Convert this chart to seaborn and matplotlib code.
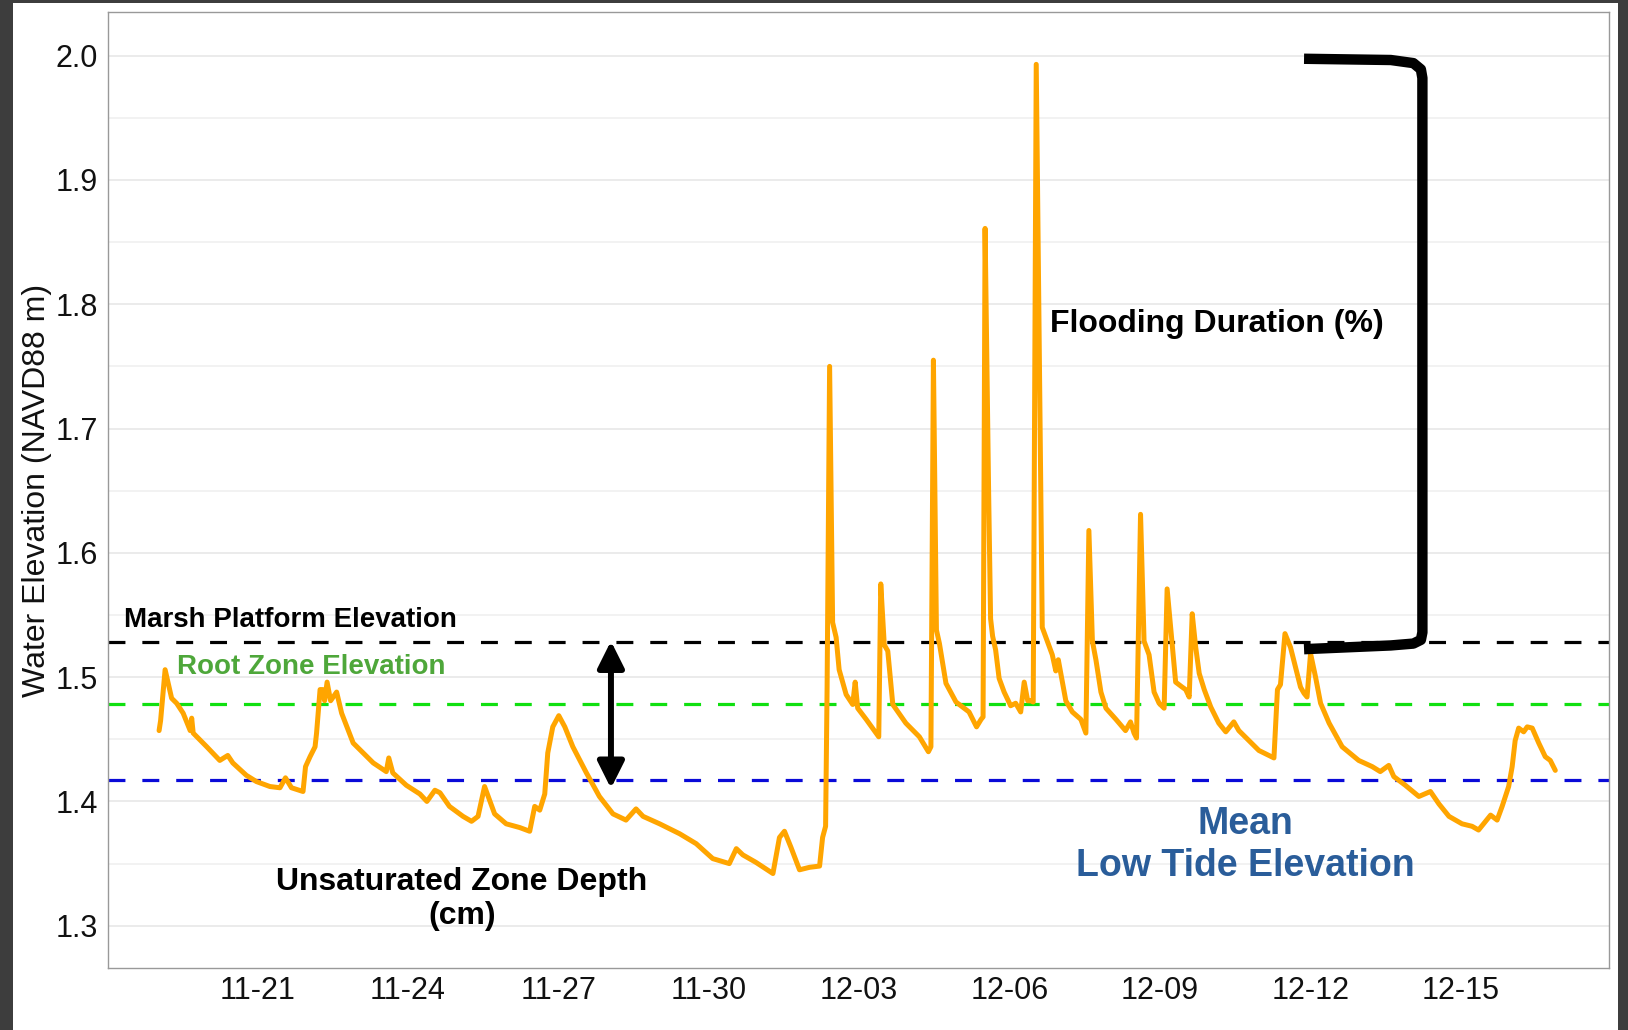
import numpy as np
import pandas as pd
import matplotlib.pyplot as plt
import matplotlib.dates as mdates
from matplotlib.patches import Rectangle
import seaborn as sns

sns.set_style('white')
plt.rcParams['font.family'] = ['Liberation Sans', 'DejaVu Sans']

# 수위 시계열 (11-19 00:00 기준 경과 일수, NAVD88 m)
day_offset = [0.04, 0.07, 0.16, 0.29, 0.39, 0.52, 0.66, 0.69, 0.72, 0.99,
              1.25, 1.41, 1.51, 1.78, 1.98, 2.25, 2.45, 2.56, 2.68, 2.91,
              2.96, 3.05, 3.15, 3.18, 3.25, 3.30, 3.34, 3.39, 3.46, 3.58,
              3.68, 3.91, 4.31, 4.57, 4.62, 4.70, 4.97, 5.24, 5.38, 5.54,
              5.64, 5.83, 6.10, 6.27, 6.40, 6.53, 6.63, 6.73, 6.96, 7.23,
              7.43, 7.53, 7.63, 7.73, 7.79, 7.89, 8.01, 8.13, 8.29, 8.56,
              8.82, 9.09, 9.35, 9.55, 9.69, 10.02, 10.42, 10.75, 11.08, 11.41,
              11.55, 11.68, 11.94, 12.28, 12.41, 12.51, 12.64, 12.81, 13.01, 13.21,
              13.27, 13.33, 13.36, 13.41, 13.47, 13.54, 13.60, 13.74, 13.87, 13.92,
              13.97, 14.14, 14.39, 14.43, 14.50, 14.57, 14.67, 14.93, 15.20, 15.38,
              15.43, 15.48, 15.54, 15.60, 15.73, 15.93, 16.19, 16.34, 16.43, 16.47,
              16.51, 16.58, 16.62, 16.66, 16.72, 16.79, 16.89, 17.02, 17.12, 17.22,
              17.29, 17.36, 17.42, 17.47, 17.53, 17.62, 17.65, 17.75, 17.85, 17.92,
              17.97, 18.02, 18.12, 18.25, 18.42, 18.52, 18.58, 18.65, 18.72, 18.82,
              18.92, 19.12, 19.31, 19.41, 19.48, 19.53, 19.61, 19.68, 19.78, 19.88,
              19.98, 20.08, 20.14, 20.21, 20.31, 20.44, 20.51, 20.58, 20.64, 20.71,
              20.78, 20.88, 21.01, 21.17, 21.31, 21.47, 21.57, 21.77, 21.97, 22.17,
              22.27, 22.34, 22.40, 22.49, 22.60, 22.70, 22.80, 22.87, 22.93, 23.00,
              23.10, 23.20, 23.37, 23.63, 23.96, 24.23, 24.39, 24.56, 24.66, 24.89,
              25.16, 25.39, 25.56, 25.76, 26.02, 26.22, 26.35, 26.49, 26.59, 26.72,
              26.82, 26.95, 27.02, 27.08, 27.15, 27.25, 27.32, 27.42, 27.55, 27.68,
              27.78, 27.88]
water_elev = [1.457, 1.465, 1.506, 1.483, 1.479, 1.471, 1.457, 1.467, 1.455, 1.444,
              1.433, 1.437, 1.431, 1.421, 1.416, 1.412, 1.411, 1.419, 1.411, 1.408,
              1.428, 1.436, 1.444, 1.455, 1.490, 1.490, 1.481, 1.496, 1.481, 1.488,
              1.471, 1.447, 1.431, 1.424, 1.435, 1.423, 1.413, 1.406, 1.400, 1.409,
              1.407, 1.396, 1.388, 1.384, 1.388, 1.412, 1.401, 1.390, 1.382, 1.379,
              1.376, 1.396, 1.393, 1.406, 1.439, 1.460, 1.469, 1.460, 1.444, 1.423,
              1.404, 1.390, 1.385, 1.394, 1.388, 1.382, 1.374, 1.366, 1.354, 1.350,
              1.362, 1.357, 1.351, 1.342, 1.371, 1.376, 1.363, 1.345, 1.347, 1.348,
              1.371, 1.380, 1.492, 1.750, 1.544, 1.532, 1.506, 1.486, 1.478, 1.496,
              1.475, 1.466, 1.452, 1.575, 1.526, 1.521, 1.478, 1.463, 1.452, 1.440,
              1.444, 1.755, 1.538, 1.527, 1.495, 1.480, 1.472, 1.460, 1.466, 1.468,
              1.861, 1.651, 1.547, 1.533, 1.522, 1.499, 1.488, 1.477, 1.479, 1.472,
              1.496, 1.481, 1.481, 1.480, 1.993, 1.651, 1.540, 1.529, 1.518, 1.505,
              1.514, 1.503, 1.481, 1.472, 1.466, 1.455, 1.618, 1.529, 1.514, 1.488,
              1.475, 1.466, 1.457, 1.464, 1.455, 1.451, 1.631, 1.529, 1.518, 1.488,
              1.479, 1.475, 1.571, 1.540, 1.496, 1.492, 1.490, 1.484, 1.551, 1.524,
              1.503, 1.490, 1.476, 1.463, 1.456, 1.464, 1.457, 1.449, 1.441, 1.437,
              1.435, 1.490, 1.494, 1.535, 1.524, 1.508, 1.492, 1.487, 1.484, 1.519,
              1.500, 1.479, 1.463, 1.444, 1.433, 1.428, 1.424, 1.429, 1.420, 1.413,
              1.404, 1.408, 1.398, 1.388, 1.382, 1.380, 1.377, 1.384, 1.389, 1.385,
              1.396, 1.412, 1.428, 1.449, 1.459, 1.456, 1.460, 1.459, 1.447, 1.436,
              1.433, 1.425]

marsh_platform = 1.528
root_zone = 1.478
mean_low_tide = 1.4175

start = pd.Timestamp('2019-11-19')
df = pd.DataFrame({'time': start + pd.to_timedelta(day_offset, unit='D'),
                   'elev': water_elev})

fig = plt.figure(figsize=(16.28, 10.30), dpi=100, facecolor='#3d3d3d')
fig.add_artist(Rectangle((13 / 1628, 0), 1605 / 1628, 1027 / 1030,
                         transform=fig.transFigure, facecolor='white',
                         edgecolor='none', zorder=-10))
ax = fig.add_axes([0.0663, 0.0602, 0.922, 0.928])

# 기준선
ax.axhline(marsh_platform, color='black', lw=2.3, ls=(0, (5.3, 5.3)), zorder=2)
ax.axhline(root_zone, color='#10e010', lw=2.3, ls=(0, (5.3, 5.3)), zorder=2)
ax.axhline(mean_low_tide, color='#0a0ad8', lw=2.3, ls=(0, (5.3, 5.3)), zorder=2)

sns.lineplot(data=df, x='time', y='elev', color='orange', lw=3.6, ax=ax, zorder=3)

ax.set_xlim(start + pd.Timedelta(days=-0.98), start + pd.Timedelta(days=28.95))
ax.set_ylim(1.266, 2.035)
ax.set_yticks(np.arange(1.3, 2.01, 0.1))
ax.set_yticks(np.arange(1.35, 2.0, 0.1), minor=True)
ax.yaxis.set_major_formatter(plt.FormatStrFormatter('%.1f'))
ax.set_xticks(pd.date_range('2019-11-21', '2019-12-15', freq='3D'))
ax.xaxis.set_major_formatter(mdates.DateFormatter('%m-%d'))
ax.grid(axis='y', which='major', color='#e8e8e8', lw=1.2, zorder=0)
ax.grid(axis='y', which='minor', color='#f0f0f0', lw=1.2, zorder=0)
ax.grid(axis='x', visible=False)
ax.tick_params(axis='both', which='major', direction='out', length=4, width=1,
               color='#555555', labelsize=22, labelcolor='#111111', pad=3)
ax.tick_params(axis='y', which='minor', length=0)
ax.tick_params(axis='x', pad=2)
for s in ax.spines.values():
    s.set_color('#999999')
    s.set_linewidth(1)
ax.set_xlabel('')
ax.set_ylabel('Water Elevation (NAVD88 m)', fontsize=23, color='#111111', labelpad=3)


def d(x):
    return start + pd.Timedelta(days=x)


# 주석
ax.text(d(-0.65), 1.5462, 'Marsh Platform Elevation', fontsize=20, fontweight='bold',
        ha='left', va='center', color='black')
ax.text(d(0.40), 1.508, 'Root Zone Elevation', fontsize=20, fontweight='bold',
        ha='left', va='center', color='#4ea73a')
ax.text(d(6.08), 1.3214, 'Unsaturated Zone Depth\n(cm)', fontsize=23, fontweight='bold',
        ha='center', va='center', multialignment='center', linespacing=1.15,
        color='black')
ax.text(d(17.80), 1.784, 'Flooding Duration (%)', fontsize=23, fontweight='bold',
        ha='left', va='center', color='black')
ax.text(d(21.71), 1.365, 'Mean\nLow Tide Elevation', fontsize=27, fontweight='bold',
        ha='center', va='center', multialignment='center', linespacing=1.2,
        color='#2a5d9a')

ax.annotate('', xy=(d(9.05), 1.529), xytext=(d(9.05), 1.4105),
            arrowprops=dict(arrowstyle='<|-|>,head_length=1.6,head_width=0.8',
                            mutation_scale=10, lw=4.3, color='black',
                            shrinkA=0, shrinkB=0), zorder=4)

# 브래킷
bx = [22.87, 24.6, 25.05, 25.2, 25.23, 25.23, 25.2, 25.05, 24.6, 22.87]
by = [1.9975, 1.9965, 1.994, 1.989, 1.982, 1.536, 1.530, 1.527, 1.5255, 1.5225]
ax.plot([d(v) for v in bx], by, color='black', lw=7.5, solid_capstyle='butt',
        solid_joinstyle='round', zorder=5)

fig.savefig('out.png', dpi=100, facecolor=fig.get_facecolor())
